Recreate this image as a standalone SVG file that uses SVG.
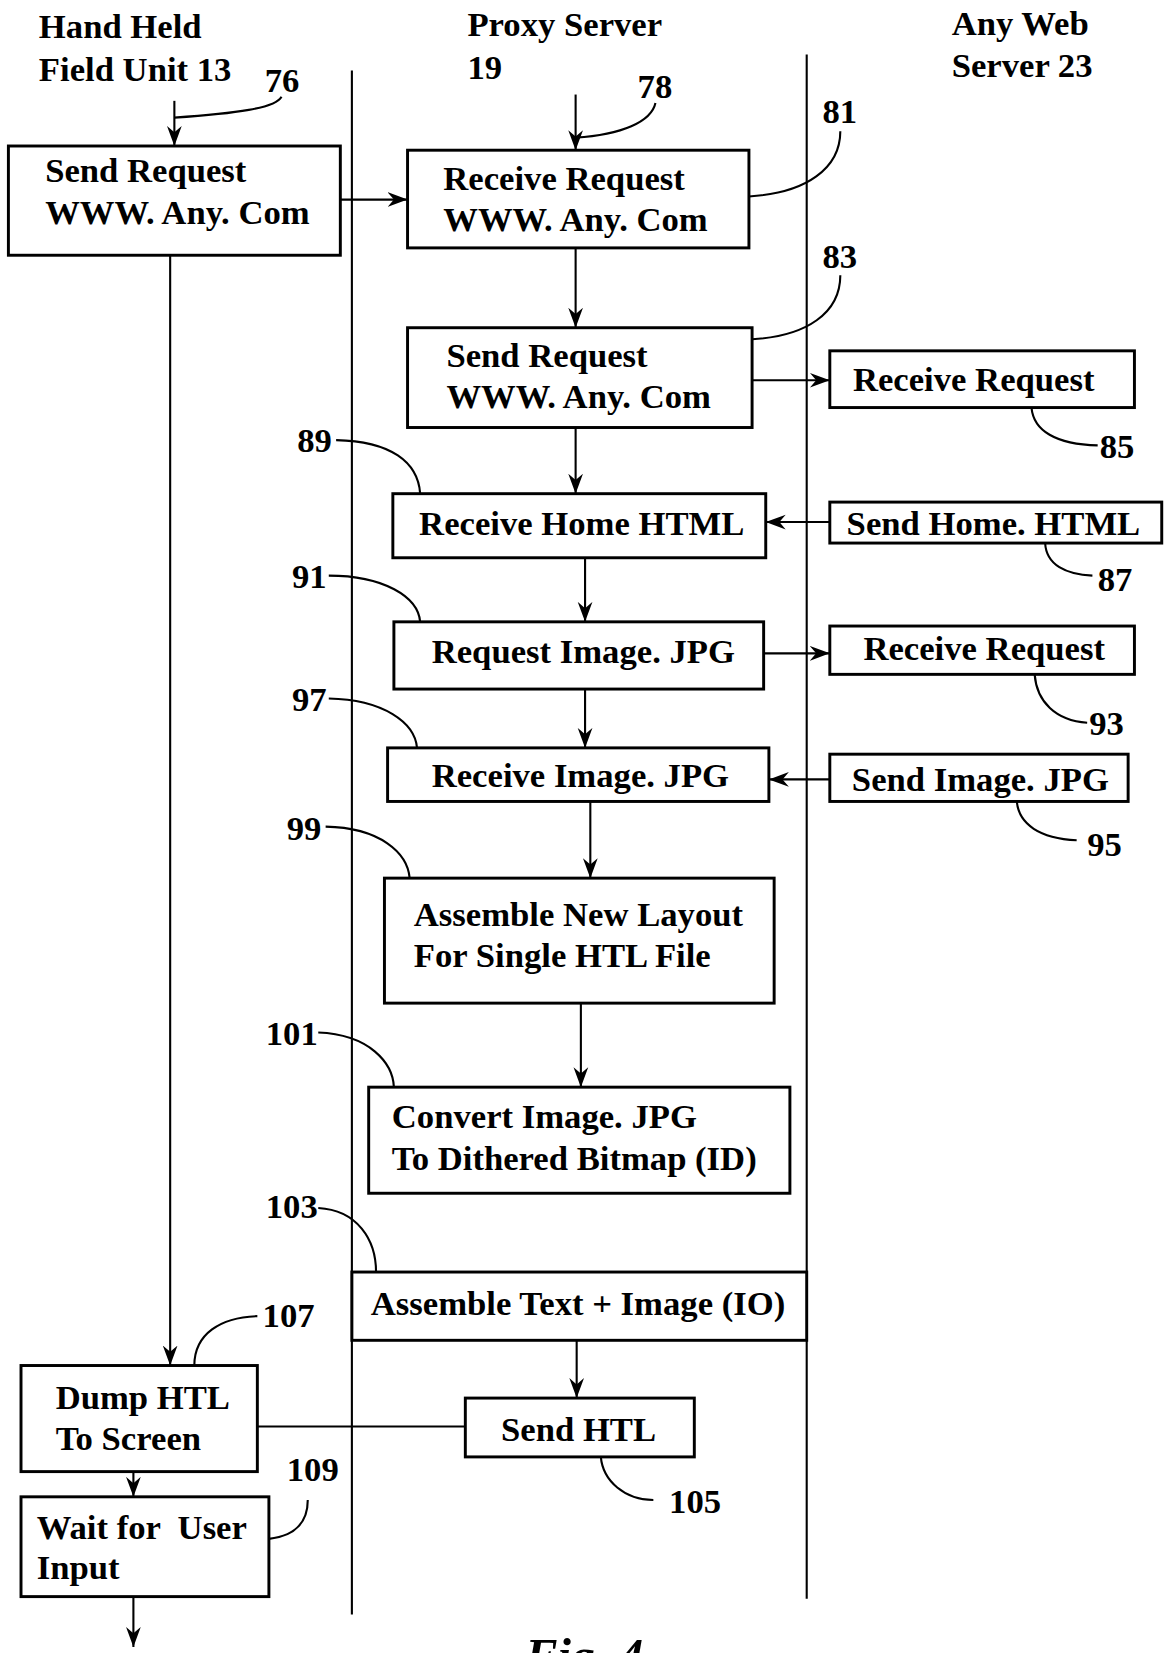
<svg xmlns="http://www.w3.org/2000/svg" width="1167" height="1653" viewBox="0 0 1167 1653">
<style>
.box{fill:#fff;stroke:#000;stroke-width:2.8}
.t{font-family:"Liberation Serif","Times New Roman",serif;font-weight:bold;font-size:33px;fill:#000}
.fig{font-style:italic;font-size:46px}
.lane{stroke:#000;stroke-width:2;fill:none}
.c{stroke:#000;stroke-width:2;fill:none}
.a{marker-end:url(#ah)}
</style>
<defs>
<marker id="ah" markerUnits="userSpaceOnUse" markerWidth="20" markerHeight="16" refX="19" refY="8" orient="auto"><path d="M0,1 L19,8 L0,15 L6,8 z" fill="#000"/></marker>
</defs>
<rect width="1167" height="1653" fill="#fff"/>
<g transform="scale(1.0504)">
<g id="lanes">
<line class="lane" x1="335" y1="67" x2="335" y2="1537"/>
<line class="lane" x1="768" y1="52" x2="768" y2="1522"/>
</g>
<g id="headers">
<text class="t" x="37" y="36">Hand Held</text>
<text class="t" x="37" y="77">Field Unit 13</text>
<text class="t" x="445" y="34">Proxy Server</text>
<text class="t" x="445" y="75">19</text>
<text class="t" x="906" y="33">Any Web</text>
<text class="t" x="906" y="73">Server 23</text>
</g>
<g id="n76"><rect class="box" x="8" y="139" width="316" height="104"/><text class="t" x="43" y="173">Send Request</text><text class="t" x="43" y="213">WWW. Any. Com</text></g>
<g id="n78"><rect class="box" x="388" y="143" width="325" height="93"/><text class="t" x="422" y="181">Receive Request</text><text class="t" x="422" y="220">WWW. Any. Com</text></g>
<g id="n83"><rect class="box" x="388" y="312" width="328" height="95"/><text class="t" x="425" y="349">Send Request</text><text class="t" x="425" y="388">WWW. Any. Com</text></g>
<g id="n85"><rect class="box" x="790" y="334" width="290" height="54"/><text class="t" x="812" y="372">Receive Request</text></g>
<g id="n89"><rect class="box" x="374" y="470" width="355" height="61"/><text class="t" x="399" y="509">Receive Home HTML</text></g>
<g id="n87"><rect class="box" x="790" y="478" width="316" height="39"/><text class="t" x="806" y="509">Send Home. HTML</text></g>
<g id="n91"><rect class="box" x="375" y="592" width="352" height="64"/><text class="t" x="411" y="631">Request Image. JPG</text></g>
<g id="n93"><rect class="box" x="790" y="596" width="290" height="46"/><text class="t" x="822" y="628">Receive Request</text></g>
<g id="n97"><rect class="box" x="369" y="712" width="363" height="51"/><text class="t" x="411" y="749">Receive Image. JPG</text></g>
<g id="n95"><rect class="box" x="790" y="718" width="284" height="45"/><text class="t" x="811" y="753">Send Image. JPG</text></g>
<g id="n99"><rect class="box" x="366" y="836" width="371" height="119"/><text class="t" x="394" y="882">Assemble New Layout</text><text class="t" x="394" y="921">For Single HTL File</text></g>
<g id="n101"><rect class="box" x="351" y="1035" width="401" height="101"/><text class="t" x="373" y="1074">Convert Image. JPG</text><text class="t" x="373" y="1114">To Dithered Bitmap (ID)</text></g>
<g id="n103"><rect class="box" x="335" y="1211" width="433" height="65"/><text class="t" x="353" y="1252">Assemble Text + Image (IO)</text></g>
<g id="n105"><rect class="box" x="443" y="1331" width="218" height="56"/><text class="t" x="477" y="1372">Send HTL</text></g>
<g id="n107"><rect class="box" x="20" y="1300" width="225" height="101"/><text class="t" x="53" y="1341">Dump HTL</text><text class="t" x="53" y="1380">To Screen</text></g>
<g id="n109"><rect class="box" x="20" y="1425" width="236" height="95"/><text class="t" x="35" y="1465" xml:space="preserve">Wait for  User</text><text class="t" x="35" y="1503">Input</text></g>
<g id="refs">
<text class="t" x="252" y="88">76</text>
<text class="t" x="607" y="93">78</text>
<text class="t" x="783" y="117">81</text>
<text class="t" x="783" y="255">83</text>
<text class="t" x="1047" y="436">85</text>
<text class="t" x="283" y="430">89</text>
<text class="t" x="1045" y="563">87</text>
<text class="t" x="278" y="560">91</text>
<text class="t" x="1037" y="700">93</text>
<text class="t" x="278" y="677">97</text>
<text class="t" x="1035" y="815">95</text>
<text class="t" x="273" y="800">99</text>
<text class="t" x="253" y="995">101</text>
<text class="t" x="253" y="1160">103</text>
<text class="t" x="637" y="1440">105</text>
<text class="t" x="250" y="1263">107</text>
<text class="t" x="273" y="1410">109</text>
<text class="t fig" x="500" y="1592">Fig. 4</text>
</g>
<g id="connectors">
<path class="c a" d="M166,96 L166,139"/>
<path class="c" d="M166,112 C225,108 262,103 268,92"/>
<path class="c a" d="M548,90 L548,143"/>
<path class="c" d="M548,131 C592,128 620,116 624,98"/>
<path class="c a" d="M324,190 L388,190"/>
<path class="c a" d="M162,243 L162,1300"/>
<path class="c a" d="M548,236 L548,312"/>
<path class="c" d="M713,187 C768,184 800,160 800,125"/>
<path class="c" d="M716,323 C768,320 800,298 800,262"/>
<path class="c a" d="M716,362 L790,362"/>
<path class="c a" d="M548,407 L548,470"/>
<path class="c" d="M982,388 C984,410 1005,423 1045,424"/>
<path class="c a" d="M790,497 L729,497"/>
<path class="c" d="M320,419 C372,420 398,440 400,470"/>
<path class="c" d="M995,517 C996,538 1015,547 1040,548"/>
<path class="c a" d="M557,531 L557,592"/>
<path class="c" d="M313,548 C365,548 398,568 400,592"/>
<path class="c a" d="M727,622 L790,622"/>
<path class="c" d="M985,642 C987,668 1005,686 1035,688"/>
<path class="c a" d="M557,656 L557,712"/>
<path class="c" d="M313,665 C365,666 395,688 397,712"/>
<path class="c a" d="M790,742 L732,742"/>
<path class="c" d="M968,763 C970,785 990,798 1025,800"/>
<path class="c a" d="M562,763 L562,836"/>
<path class="c" d="M310,787 C362,788 388,812 390,836"/>
<path class="c a" d="M553,955 L553,1035"/>
<path class="c" d="M303,983 C352,985 374,1012 375,1035"/>
<path class="c" d="M303,1150 C340,1152 358,1180 358,1211"/>
<path class="c a" d="M549,1276 L549,1331"/>
<path class="c" d="M443,1358 L245,1358"/>
<path class="c" d="M572,1387 C574,1410 595,1428 622,1428"/>
<path class="c" d="M185,1300 C185,1270 210,1254 245,1253"/>
<path class="c a" d="M127,1401 L127,1425"/>
<path class="c" d="M256,1465 C283,1462 293,1447 293,1428"/>
<path class="c a" d="M127,1520 L127,1568"/>
</g>
</g>
</svg>
